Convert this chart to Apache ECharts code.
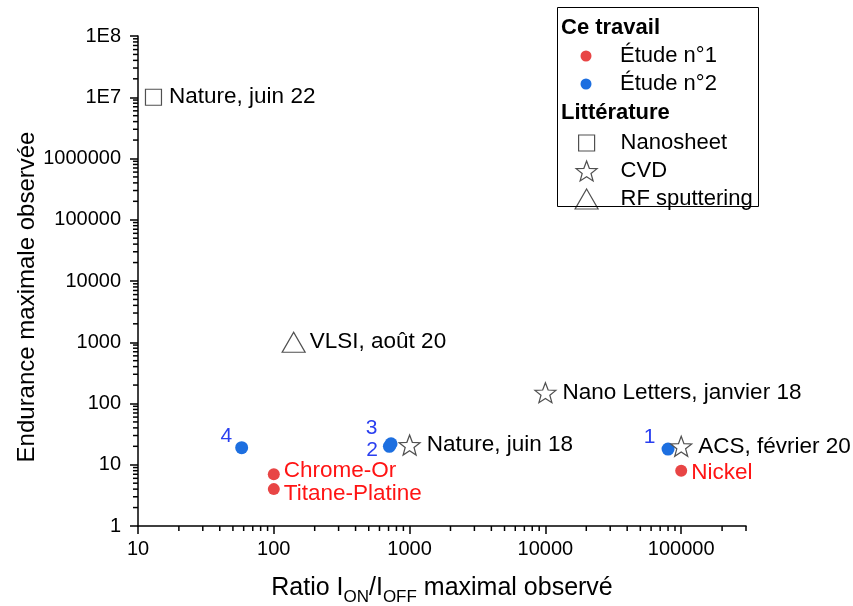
<!DOCTYPE html>
<html>
<head>
<meta charset="utf-8">
<script src="https://cdn.jsdelivr.net/npm/echarts@6/dist/echarts.min.js"></script>
<style>html,body{margin:0;padding:0;background:#fff;}#c{width:853px;height:606px;}</style>
</head>
<body>
<div id="c"></div>
<script>
// ---- data ----
const etude1Names = ['Chrome-Or', 'Titane-Platine', 'Nickel'];
const etude1X = [100, 100, 100000];
const etude1Y = [7, 4, 8];

const etude2Names = ['1', '2', '3', '4'];
const etude2X = [80000, 710, 730, 58];
const etude2Y = [18, 20, 22, 19];

const nanosheetNames = ['Nature, juin 22'];
const nanosheetX = [13];
const nanosheetY = [10000000];

const cvdNames = ['Nano Letters, janvier 18', 'Nature, juin 18', 'ACS, février 20'];
const cvdX = [10000, 1000, 100000];
const cvdY = [150, 21, 20];

const rfNames = ['VLSI, août 20'];
const rfX = [140];
const rfY = [1000];

const xTickValues = [10, 100, 1000, 10000, 100000];
const xTickLabels = ['10', '100', '1000', '10000', '100000'];
const yTickValues = [1, 10, 100, 1000, 10000, 100000, 1000000, 10000000, 100000000];
const yTickLabels = ['1', '10', '100', '1000', '10000', '100000', '1000000', '1E7', '1E8'];
const minorMultipliers = [2, 3, 4, 5, 6, 7, 8, 9];

const X_MIN = 10, X_MAX = 300000, Y_MIN = 1, Y_MAX = 100000000;

// ---- build ----
const FONT = '"Liberation Sans", Arial, sans-serif';
const starPath = 'path://M100,0 L124.7,66 L195.1,69.1 L139.9,113 L158.8,180.9 L100,142 L41.2,180.9 L60.1,113 L4.9,69.1 L75.3,66 Z';

function zip(xs, ys, names) { return xs.map((x, i) => ({ value: [x, ys[i]], name: names[i] })); }

const xMinor = [];
xTickValues.forEach(d => minorMultipliers.forEach(m => { const v = d * m; if (v <= X_MAX) xMinor.push([v, Y_MIN]); }));
const yMinor = [];
yTickValues.slice(0, -1).forEach(d => minorMultipliers.forEach(m => { yMinor.push([X_MIN, d * m]); }));

const e1LabelOffsets = [[0, -3], [0, 5], [0, 2]];
const e2LabelCfg = [
  { distance: 6, offset: [0, -12] },
  { distance: 5, offset: [0, 4] },
  { distance: 7, offset: [0, -16] },
  { distance: 3, offset: [0, -11] }
];

const etude1Data = zip(etude1X, etude1Y, etude1Names).map((d, i) => Object.assign(d, {
  label: { offset: e1LabelOffsets[i] }
}));
const etude2Data = zip(etude2X, etude2Y, etude2Names).map((d, i) => Object.assign(d, {
  label: { distance: e2LabelCfg[i].distance, offset: e2LabelCfg[i].offset }
}));

const litLabel = { show: true, position: 'right', distance: 6, formatter: '{b}', color: '#000', fontSize: 22.5, fontFamily: FONT };
const litStyle = { color: '#ffffff', borderColor: '#505050', borderWidth: 1.2, opacity: 1 };
const legText = { fontSize: 22, lineHeight: 22, color: '#000', fontFamily: FONT };

const chart = echarts.init(document.getElementById('c'), null, { renderer: 'canvas' });

const option = {
  backgroundColor: '#fff',
  animation: false,
  textStyle: { fontFamily: FONT },
  grid: { left: 138, right: 107, top: 36, bottom: 80, containLabel: false, outerBoundsMode: 'none' },
  xAxis: {
    type: 'log', logBase: 10, min: X_MIN, max: X_MAX,
    name: 'Ratio I{s|ON}/I{s|OFF} maximal observé',
    nameLocation: 'middle', nameGap: 44, nameMoveOverlap: false,
    nameTextStyle: { fontSize: 25, color: '#000', fontFamily: FONT, lineHeight: 36,
      rich: { s: { fontSize: 17, lineHeight: 17, verticalAlign: 'bottom', color: '#000', fontFamily: FONT } } },
    axisLine: { show: true, onZero: false, lineStyle: { color: '#000', width: 1.5 } },
    axisTick: { show: true, inside: false, length: 8, lineStyle: { color: '#000', width: 1.5 }, customValues: xTickValues },
    axisLabel: { show: true, margin: 13, fontSize: 20, color: '#000', fontFamily: FONT, customValues: xTickValues,
      formatter: v => { const i = xTickValues.findIndex(t => Math.abs(t - v) / t < 1e-6); return i >= 0 ? xTickLabels[i] : ''; } },
    splitLine: { show: false }, minorTick: { show: false }, minorSplitLine: { show: false }
  },
  yAxis: {
    type: 'log', logBase: 10, min: Y_MIN, max: Y_MAX,
    name: 'Endurance maximale observée',
    nameLocation: 'middle', nameGap: 99, nameMoveOverlap: false,
    nameTextStyle: { fontSize: 24, color: '#000', fontFamily: FONT, padding: [0, 32, 0, 0] },
    axisLine: { show: true, onZero: false, lineStyle: { color: '#000', width: 1.5 } },
    axisTick: { show: true, inside: false, length: 8, lineStyle: { color: '#000', width: 1.5 }, customValues: yTickValues },
    axisLabel: { show: true, margin: 17, fontSize: 20, color: '#000', fontFamily: FONT, customValues: yTickValues,
      formatter: v => { const i = yTickValues.findIndex(t => Math.abs(t - v) / t < 1e-6); return i >= 0 ? yTickLabels[i] : ''; } },
    splitLine: { show: false }, minorTick: { show: false }, minorSplitLine: { show: false }
  },
  legend: [
    { data: ['Étude n°1', 'Étude n°2'], orient: 'vertical', left: 580.5, top: 45, padding: 0,
      itemWidth: 11, itemHeight: 11, itemGap: 6, selectedMode: false,
      textStyle: Object.assign({}, legText, { padding: [0, 0, 0, 23.5] }) },
    { data: ['Nanosheet'], orient: 'vertical', left: 578, top: 132, padding: 0,
      itemWidth: 16, itemHeight: 16, selectedMode: false,
      itemStyle: { borderWidth: 1.2 },
      textStyle: Object.assign({}, legText, { padding: [0, 0, 0, 21] }) },
    { data: ['CVD'], orient: 'vertical', left: 575.5, top: 160, padding: 0,
      itemWidth: 21, itemHeight: 20, selectedMode: false,
      itemStyle: { borderWidth: 1.2 },
      textStyle: Object.assign({}, legText, { padding: [0, 0, 0, 18.5] }) },
    { data: ['RF sputtering'], orient: 'vertical', left: 574.5, top: 188, padding: 0,
      itemWidth: 23, itemHeight: 20, selectedMode: false,
      itemStyle: { borderWidth: 1.2 },
      textStyle: Object.assign({}, legText, { padding: [0, 0, 0, 17.5] }) }
  ],
  graphic: [
    { type: 'rect', silent: true, shape: { x: 557.5, y: 7.5, width: 201, height: 199 },
      style: { fill: 'none', stroke: '#000', lineWidth: 1 }, z: 100 },
    { type: 'text', silent: true, x: 561, y: 28,
      style: { text: 'Ce travail', fontSize: 22, fontWeight: 'bold', fontFamily: FONT, fill: '#000', verticalAlign: 'middle' }, z: 100 },
    { type: 'text', silent: true, x: 561, y: 113,
      style: { text: 'Littérature', fontSize: 22, fontWeight: 'bold', fontFamily: FONT, fill: '#000', verticalAlign: 'middle' }, z: 100 }
  ],
  series: [
    {
      name: 'xMinor', type: 'custom', silent: true, data: xMinor, encode: { x: 0, y: 1 },
      renderItem: (params, api) => {
        const p = api.coord([api.value(0), api.value(1)]);
        return { type: 'line', shape: { x1: p[0], y1: p[1], x2: p[0], y2: p[1] + 5 }, style: { stroke: '#000', lineWidth: 1.5 } };
      }
    },
    {
      name: 'yMinor', type: 'custom', silent: true, data: yMinor, encode: { x: 0, y: 1 },
      renderItem: (params, api) => {
        const p = api.coord([api.value(0), api.value(1)]);
        return { type: 'line', shape: { x1: p[0], y1: p[1], x2: p[0] - 5, y2: p[1] }, style: { stroke: '#000', lineWidth: 1.5 } };
      }
    },
    {
      name: 'Étude n°1', type: 'scatter', symbol: 'circle', symbolSize: 12,
      itemStyle: { color: '#e84545', opacity: 1 },
      label: { show: true, position: 'right', distance: 4, formatter: '{b}', color: '#ff1414', fontSize: 22.5, fontFamily: FONT },
      data: etude1Data, z: 3
    },
    {
      name: 'Étude n°2', type: 'scatter', symbol: 'circle', symbolSize: 13,
      itemStyle: { color: '#1d6fe0', opacity: 1 },
      label: { show: true, position: 'left', formatter: '{b}', color: '#2a3ff0', fontSize: 21, fontFamily: FONT },
      data: etude2Data, z: 3
    },
    {
      name: 'Nanosheet', type: 'scatter', symbol: 'rect', symbolSize: 16,
      itemStyle: litStyle, label: Object.assign({}, litLabel, { distance: 7 }),
      data: zip(nanosheetX, nanosheetY, nanosheetNames), z: 4
    },
    {
      name: 'CVD', type: 'scatter', symbol: starPath, symbolSize: [21, 20],
      itemStyle: litStyle, label: litLabel,
      data: zip(cvdX, cvdY, cvdNames), z: 4
    },
    {
      name: 'RF sputtering', type: 'scatter', symbol: 'triangle', symbolSize: [23, 20],
      itemStyle: litStyle, label: Object.assign({}, litLabel, { distance: 4 }),
      data: zip(rfX, rfY, rfNames), z: 4
    }
  ]
};
chart.setOption(option);
</script>
</body>
</html>
